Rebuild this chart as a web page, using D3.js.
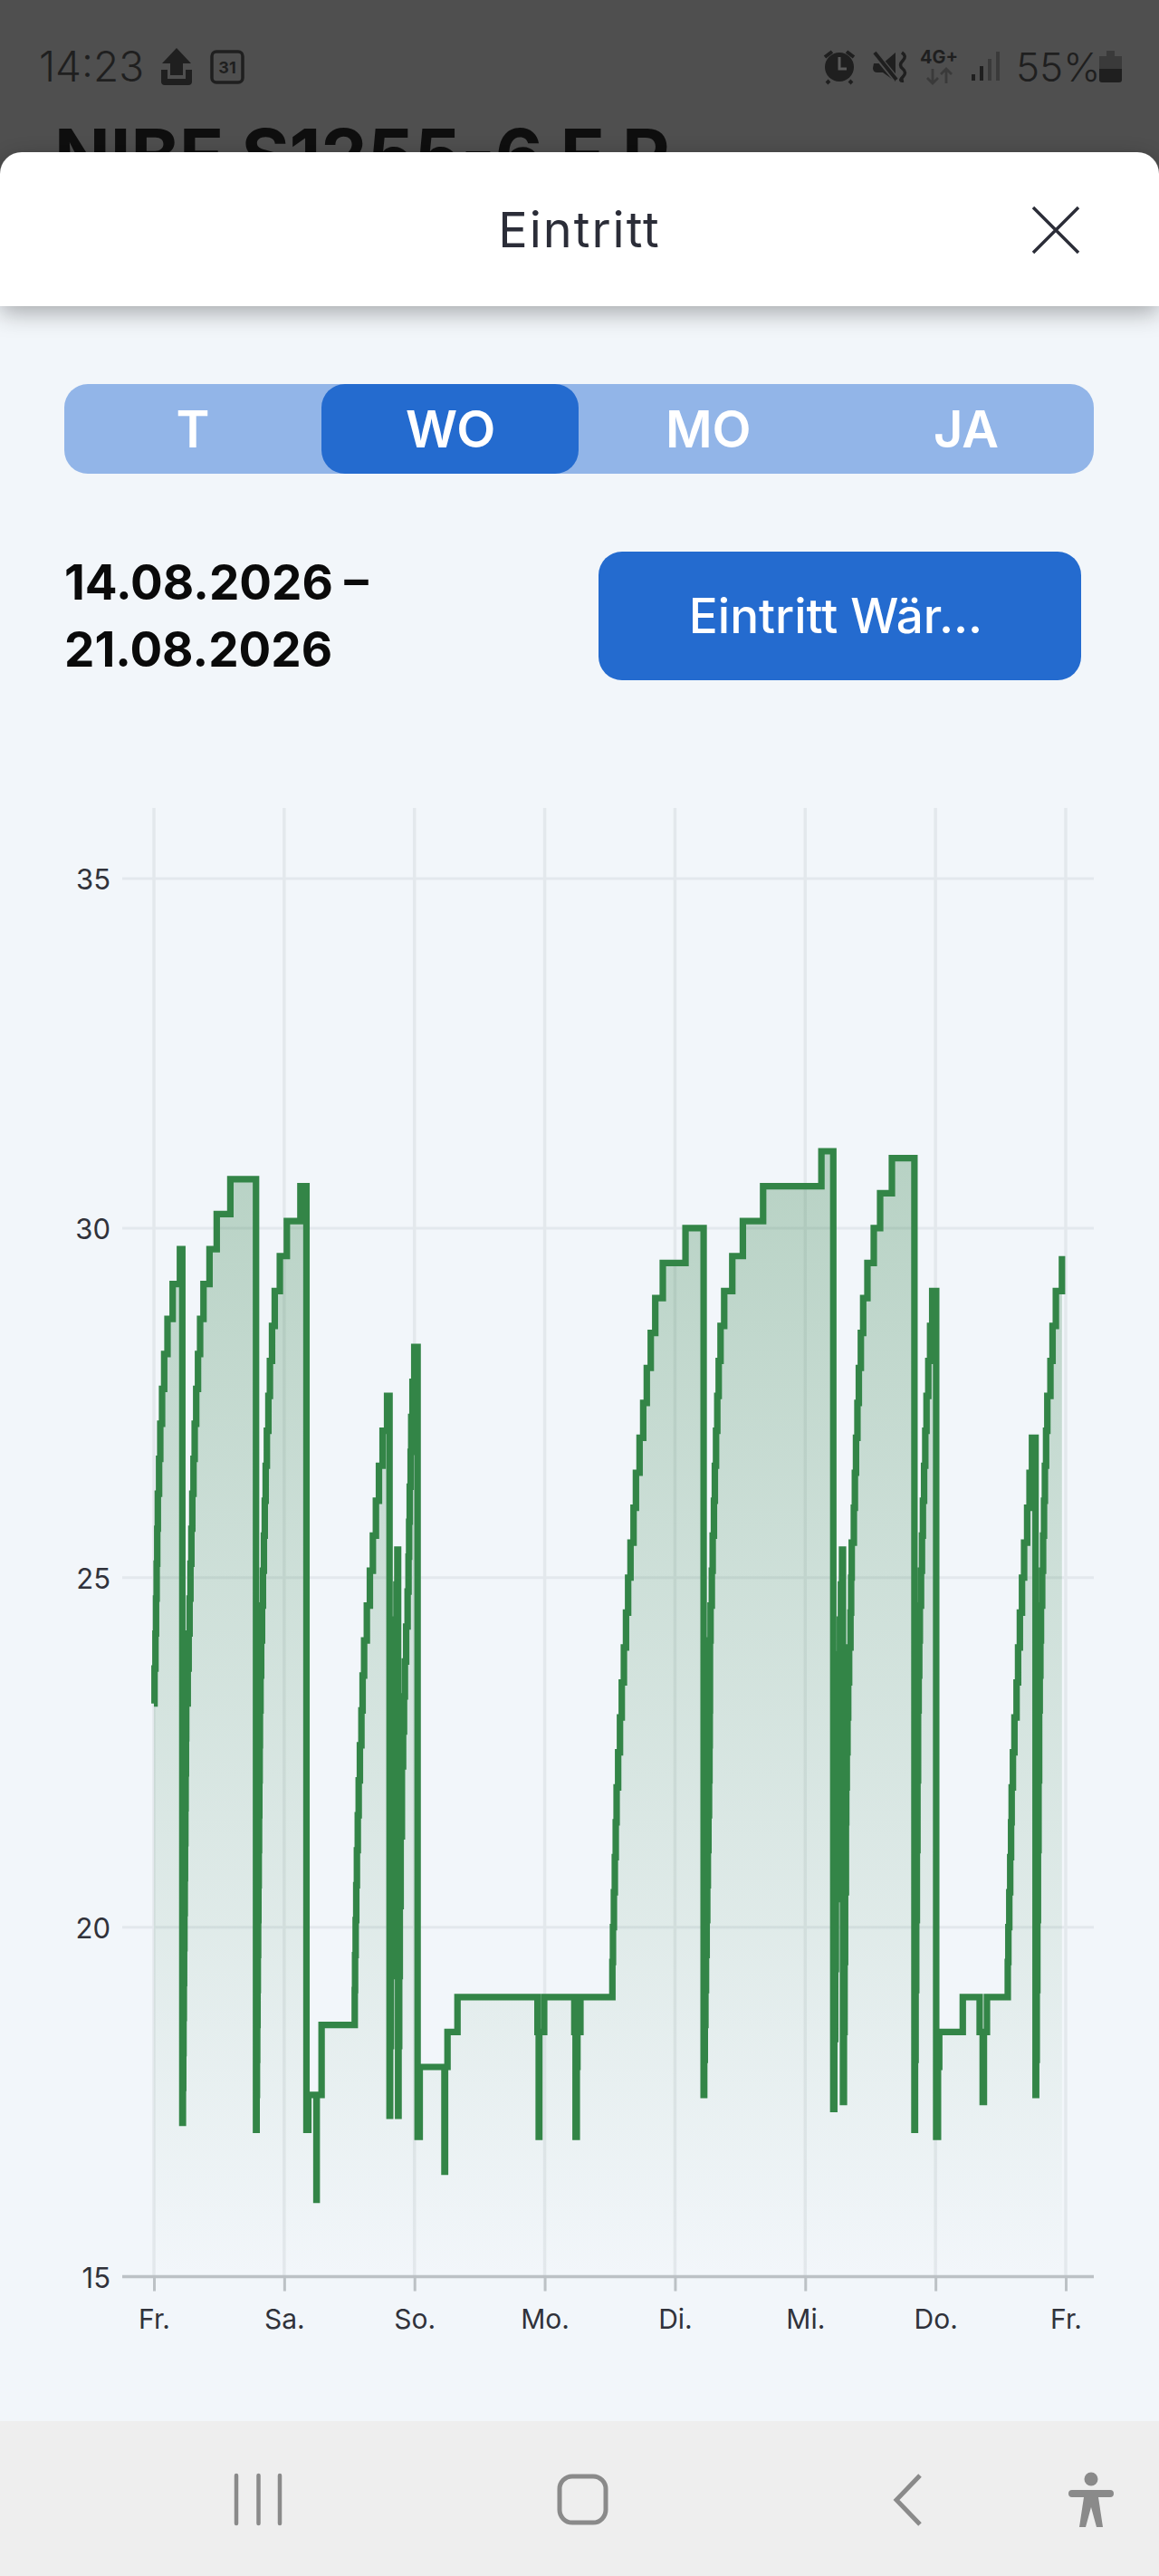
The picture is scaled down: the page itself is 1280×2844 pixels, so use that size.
<!DOCTYPE html>
<html><head><meta charset="utf-8">
<script src="https://cdn.jsdelivr.net/npm/d3@7/dist/d3.min.js"></script>
<style>html,body{margin:0;padding:0;background:#f2f6fa}svg{display:block}text{font-family:Inter,"Noto Sans",sans-serif}</style>
</head><body>
<script>
const dayLabels = ["Fr.","Sa.","So.","Mo.","Di.","Mi.","Do.","Fr."];
const dayHours = [0,24,48,72,96,120,144,168];
const yTicks = [15,20,25,30,35];
const periodTabs = ["T","WO","MO","JA"];
const hours = [
0,.11,.28,.39,.5,.61,.72,.95,1.17,1.5,1.89,2.5,3.45,4.79,5.23,
5.34,5.40,5.45,5.51,5.56,5.62,5.68,5.73,5.79,5.84,5.90,5.95,6.23,6.40,6.57,6.73,6.90,7.07,7.29,7.51,7.79,8.12,8.51,9.13,10.24,11.57,14.08,18.81,
18.92,18.98,19.03,19.09,19.14,19.2,19.25,19.31,19.37,19.42,19.48,19.53,19.64,19.76,19.92,20.09,20.26,20.42,20.59,20.81,21.09,21.37,21.76,22.26,23.2,24.49,26.99,28.1,28.44,29.94,29.99,30.89,
37.0,37.06,37.17,37.28,37.4,37.56,37.73,37.95,38.23,38.45,38.73,39.23,39.79,40.34,40.9,41.46,42.13,42.96,43.41,
43.52,43.68,43.85,44.02,44.13,44.24,44.35,44.52,44.68,44.85,44.99,
45.07,45.19,45.3,45.46,45.69,45.91,46.08,46.24,46.47,46.74,46.91,47.02,47.13,47.3,47.41,47.64,47.97,48.58,48.97,53.53,53.64,54.09,55.93,
70.67,70.9,71.01,71.9,77.46,77.69,77.91,78.03,78.58,
84.47,84.58,84.75,84.92,85.09,85.25,85.53,85.87,86.2,86.59,86.98,87.37,87.81,88.37,88.81,89.48,90.15,90.81,91.54,92.37,93.76,97.94,101.28,
101.39,101.5,101.61,101.72,101.84,101.95,102.06,102.17,102.28,102.36,102.41,102.45,102.56,102.79,102.95,103.18,103.35,103.57,103.8,104.06,104.4,105.07,106.56,108.51,112.24,122.98,125.17,
125.35,125.52,125.65,125.77,125.89,126.05,126.2,126.4,126.58,126.78,126.96,
127.13,127.25,127.35,127.5,127.56,127.66,127.79,127.92,128.09,128.34,128.46,128.57,128.96,129.15,129.36,129.62,129.88,130.25,130.68,131.46,132.63,133.8,135.97,140.12,
140.23,140.34,140.45,140.57,140.68,140.79,140.9,141.01,141.12,141.34,141.51,141.68,141.9,142.12,142.35,142.68,143.01,143.4,144.13,
144.46,144.69,149.03,152.14,152.7,152.92,153.48,
157.32,157.43,157.6,157.77,157.93,158.04,158.27,158.55,158.94,159.22,159.55,159.94,160.33,160.89,161.33,161.78,162.44,
162.55,162.66,162.77,162.88,162.99,163.1,163.21,163.33,163.44,163.66,163.83,164,164.16,164.38,164.61,165.18,165.57,166.18,167.3];
const temps = [
23.2,23.7,24.2,24.7,25.2,25.7,26.2,26.7,27.2,27.7,28.2,28.7,29.2,29.7,17.2,
17.7,18.2,18.7,19.2,19.7,20.2,20.7,21.2,21.7,22.2,22.7,23.2,23.7,24.2,24.7,25.2,25.7,26.2,26.7,27.2,27.7,28.2,28.7,29.2,29.7,30.2,30.7,17.1,
17.6,18.1,18.6,19.1,19.6,20.1,20.6,21.1,21.6,22.1,22.6,23.1,23.6,24.1,24.6,25.1,25.6,26.1,26.6,27.1,27.6,28.1,28.6,29.1,29.6,30.1,30.6,17.1,17.6,16.1,17.6,18.6,
19.1,19.6,20.1,20.6,21.1,21.6,22.1,22.6,23.1,23.6,24.1,24.6,25.1,25.6,26.1,26.6,27.1,27.6,17.3,
18.3,19.3,20.3,21.3,22.3,23.3,23.9,24.4,24.9,25.4,17.3,
18.3,19.3,20.3,21.3,22.3,22.8,23.3,23.8,24.3,24.8,25.3,25.8,26.3,26.8,27.3,27.8,28.3,17.0,18.0,16.5,18.0,18.5,19.0,
18.5,17.0,18.5,19.0,18.5,17.0,18.0,18.5,19.0,
19.5,20,20.5,21,21.5,22,22.5,23,23.5,24,24.5,25,25.5,26,26.5,27,27.5,28,28.5,29,29.5,30,17.6,
18.1,18.6,19.1,19.6,20.1,20.6,21.1,21.6,22.1,22.6,23.1,24.1,24.6,25.1,25.6,26.1,26.6,27.1,27.6,28.1,28.6,29.1,29.6,30.1,30.6,31.1,17.4,
18.4,19.4,20.4,21.4,22.4,23.4,23.9,24.4,24.9,25.4,17.5,
18.5,19.5,20.5,21.5,22,22.5,23,23.5,24,24.5,25,25.5,26,26.5,27,27.5,28,28.5,29,29.5,30,30.5,31,17.1,
18.1,19.1,20.1,21.1,22.1,23.1,23.6,24.1,24.6,25.1,25.6,26.1,26.6,27.1,27.6,28.1,28.6,29.1,17.0,
18,18.5,19,18.5,17.5,18.5,19,
19.5,20,20.5,21,21.5,22,22.5,23,23.5,24,24.5,25,25.5,26,26.5,27,17.6,
18.1,19.1,20.1,21.1,22.1,23.1,23.6,24.1,24.6,25.1,25.6,26.1,26.6,27.1,27.6,28.1,28.6,29.1,29.6];

const W=1280,H=2844;
const svg=d3.select("body").append("svg").attr("width",W).attr("height",H).attr("viewBox",`0 0 ${W} ${H}`);
const defs=svg.append("defs");
const f=defs.append("filter").attr("id","sh").attr("x","-5%").attr("y","-20%").attr("width","110%").attr("height","150%");
f.append("feDropShadow").attr("dx",0).attr("dy",7).attr("stdDeviation",13).attr("flood-color","#000").attr("flood-opacity",.32);
svg.append("rect").attr("width",W).attr("height",H).attr("fill","#f2f6fa");

/* status bar */
svg.append("rect").attr("width",W).attr("height",200).attr("fill","#4f4f4f");
const sb="#1f1f1f", sl="#3a3a3a";
svg.append("text").attr("x",43).attr("y",90).attr("font-size",46).attr("font-weight",300).attr("fill",sb).attr("font-family","Roboto").text("14:23");
svg.append("path").attr("d","M195 53L179 70H188V83H202V70H211ZM178 77V90Q178 94 182 94H208Q212 94 212 90V77H205V87H185V77Z").attr("fill",sb);
svg.append("rect").attr("x",234).attr("y",57).attr("width",34).attr("height",34).attr("rx",5).attr("fill","none").attr("stroke",sb).attr("stroke-width",3.5);
svg.append("text").attr("x",251).attr("y",81).attr("text-anchor","middle").attr("font-size",18).attr("font-weight",700).attr("fill",sb).attr("font-family","Roboto").text("31");
svg.append("circle").attr("cx",927).attr("cy",74).attr("r",16).attr("fill",sb);
svg.append("path").attr("d","M927 63V76H935").attr("fill","none").attr("stroke","#5a5a5a").attr("stroke-width",3);
svg.append("path").attr("d","M911 63L919 57M943 63L935 57M916 89L913 92M938 89L941 92").attr("fill","none").attr("stroke",sb).attr("stroke-width",4);
svg.append("path").attr("d","M965 70H975L989 58V90L975 80H969Q964 80 964 75Z").attr("fill",sb);
svg.append("path").attr("d","M966 59L990 88").attr("fill","none").attr("stroke","#4f4f4f").attr("stroke-width",7);
svg.append("path").attr("d","M966 58L990 88").attr("fill","none").attr("stroke",sb).attr("stroke-width",4);
svg.append("path").attr("d","M996 58Q1002 62 997 67T997 76T997 85T998 89").attr("fill","none").attr("stroke",sb).attr("stroke-width",3.5);
svg.append("text").attr("x",1037).attr("y",70).attr("text-anchor","middle").attr("font-size",20).attr("font-weight",700).attr("fill",sb).attr("font-family","Roboto").text("4G+");
svg.append("path").attr("d","M1030 76V92M1024 86L1030 92L1036 86M1045 92V76M1039 82L1045 76L1051 82").attr("fill","none").attr("stroke",sl).attr("stroke-width",2.8);
[[1073,82,sb],[1082,73,sb],[1091,65,sl],[1100,57,sl]].forEach(b=>svg.append("rect").attr("x",b[0]).attr("y",b[1]).attr("width",4).attr("height",89-b[1]).attr("fill",b[2]));
svg.append("text").attr("x",1122).attr("y",90).attr("font-size",44).attr("font-weight",300).attr("fill",sb).attr("font-family","Roboto").text("55%");
svg.append("path").attr("d","M1214 62H1222V56H1231V62H1239V76H1214Z").attr("fill",sl);
svg.append("path").attr("d","M1214 76H1239V88Q1239 91 1236 91H1217Q1214 91 1214 88Z").attr("fill",sb);
svg.append("text").attr("x",60).attr("y",201).attr("font-size",81).attr("font-weight",700).attr("fill","#0e0e0e").attr("font-family","Roboto").text("NIBE S1255-6 E P");

/* sheet header */
svg.append("path").attr("d","M0 338V192a24 24 0 0 1 24-24H1256a24 24 0 0 1 24 24V338z").attr("fill","#fff").attr("filter","url(#sh)");
svg.append("text").attr("x",640).attr("y",273).attr("text-anchor","middle").attr("font-size",54).attr("letter-spacing",2).attr("font-weight",400).attr("fill","#2b2d38").text("Eintritt");
svg.append("path").attr("d","M1141 229l50 50M1191 229l-50 50").attr("stroke","#2b2d38").attr("stroke-width",3.5).attr("fill","none");

/* period tabs */
svg.append("rect").attr("x",71).attr("y",424).attr("width",1137).attr("height",99).attr("rx",26).attr("fill","#92b5e8");
svg.append("rect").attr("x",355).attr("y",424).attr("width",284).attr("height",99).attr("rx",26).attr("fill","#246bcf");
const tabX=d3.scalePoint().domain(periodTabs).range([213,1067]);
svg.selectAll("text.tab").data(periodTabs).join("text").attr("class","tab").attr("x",d=>tabX(d)).attr("y",494)
  .attr("text-anchor","middle").attr("font-size",56).attr("font-weight",600).attr("fill","#fff").text(d=>d);

/* date + button */
svg.append("text").attr("x",71).attr("y",662).attr("font-size",53).attr("font-weight",700).attr("fill","#0a0a0a").text("14.08.2026\u00a0\u2013");
svg.append("text").attr("x",71).attr("y",736).attr("font-size",53).attr("font-weight",700).attr("fill","#0a0a0a").text("21.08.2026");
svg.append("rect").attr("x",661).attr("y",609).attr("width",533).attr("height",142).attr("rx",26).attr("fill","#246bcf");
svg.append("text").attr("x",923).attr("y",699).attr("text-anchor","middle").attr("font-size",53).attr("font-weight",500).attr("fill","#fff").text("Eintritt Wär...");

/* chart */
const x=d3.scaleLinear().domain([0,168]).range([170,1177]);
const y=d3.scaleLinear().domain([15,35]).range([2513.5,970]);
const data=hours.map((h,i)=>({h,v:temps[i]}));
const g=svg.append("g");
g.selectAll("line.hg").data(yTicks).join("line").attr("class","hg").attr("x1",135).attr("x2",1208).attr("y1",d=>y(d)).attr("y2",d=>y(d)).attr("stroke","#e3e8ed").attr("stroke-width",3);
g.selectAll("line.vg").data(dayHours).join("line").attr("class","vg").attr("x1",d=>x(d)).attr("x2",d=>x(d)).attr("y1",892).attr("y2",2513).attr("stroke","#e3e8ec").attr("stroke-width",3.5);

const grad=defs.append("linearGradient").attr("id","af").attr("gradientUnits","userSpaceOnUse").attr("x1",0).attr("x2",0).attr("y1",y(31.1)).attr("y2",y(15));
grad.append("stop").attr("offset",0).attr("stop-color","#2e7d46").attr("stop-opacity",.3);
grad.append("stop").attr("offset",1).attr("stop-color","#2e7d46").attr("stop-opacity",.0);
g.append("path").datum(data).attr("fill","url(#af)")
 .attr("d",d3.area().x(d=>x(d.h)).y0(y(15)).y1(d=>y(d.v)).curve(d3.curveStepAfter));

const yAxis=d3.axisLeft(y).tickValues(yTicks).tickSize(0).tickPadding(0);
const ya=g.append("g").attr("transform","translate(122,2)").call(yAxis);
ya.select(".domain").remove();
ya.selectAll("text").attr("font-size",31).attr("fill","#30323a").attr("font-family","Roboto");
const xAxis=d3.axisBottom(x).tickValues(dayHours).tickFormat((d,i)=>dayLabels[i]).tickSize(16).tickSizeOuter(0).tickPadding(20);
const xa=g.append("g").attr("transform","translate(0,2513.5)").call(xAxis);
xa.select(".domain").attr("d","M135 0H1208").attr("stroke","#bcc1c5").attr("stroke-width",3.5);
xa.selectAll(".tick line").attr("stroke","#bcc1c5").attr("stroke-width",3);
xa.selectAll("text").attr("font-size",30).attr("fill","#30323a").attr("font-family","Roboto");

g.append("path").datum(data).attr("fill","none").attr("stroke","#338547").attr("stroke-width",7.2).attr("stroke-linejoin","miter").attr("stroke-miterlimit",4)
 .attr("d",d3.line().x(d=>x(d.h)).y(d=>y(d.v)).curve(d3.curveStepAfter));

/* nav bar */
svg.append("rect").attr("y",2673).attr("width",W).attr("height",171).attr("fill","#eeeeee");
const nc="#8a8a8a";
[261,285.5,309].forEach(px=>svg.append("line").attr("x1",px).attr("x2",px).attr("y1",2733).attr("y2",2786).attr("stroke",nc).attr("stroke-width",4.5).attr("stroke-linecap","round"));
svg.append("rect").attr("x",618).attr("y",2734).attr("width",51).attr("height",51).attr("rx",14).attr("fill","none").attr("stroke",nc).attr("stroke-width",5);
svg.append("path").attr("d","M1016 2733L990 2760L1016 2787").attr("fill","none").attr("stroke",nc).attr("stroke-width",5);
svg.append("circle").attr("cx",1205).attr("cy",2737).attr("r",7.5).attr("fill",nc);
svg.append("path").attr("d","M1184 2749H1226Q1230 2749 1230 2753T1226 2757H1213L1218 2790H1211L1205 2768L1199 2790H1192L1197 2757H1184Q1180 2757 1180 2753T1184 2749Z").attr("fill",nc);
</script>
</body></html>
